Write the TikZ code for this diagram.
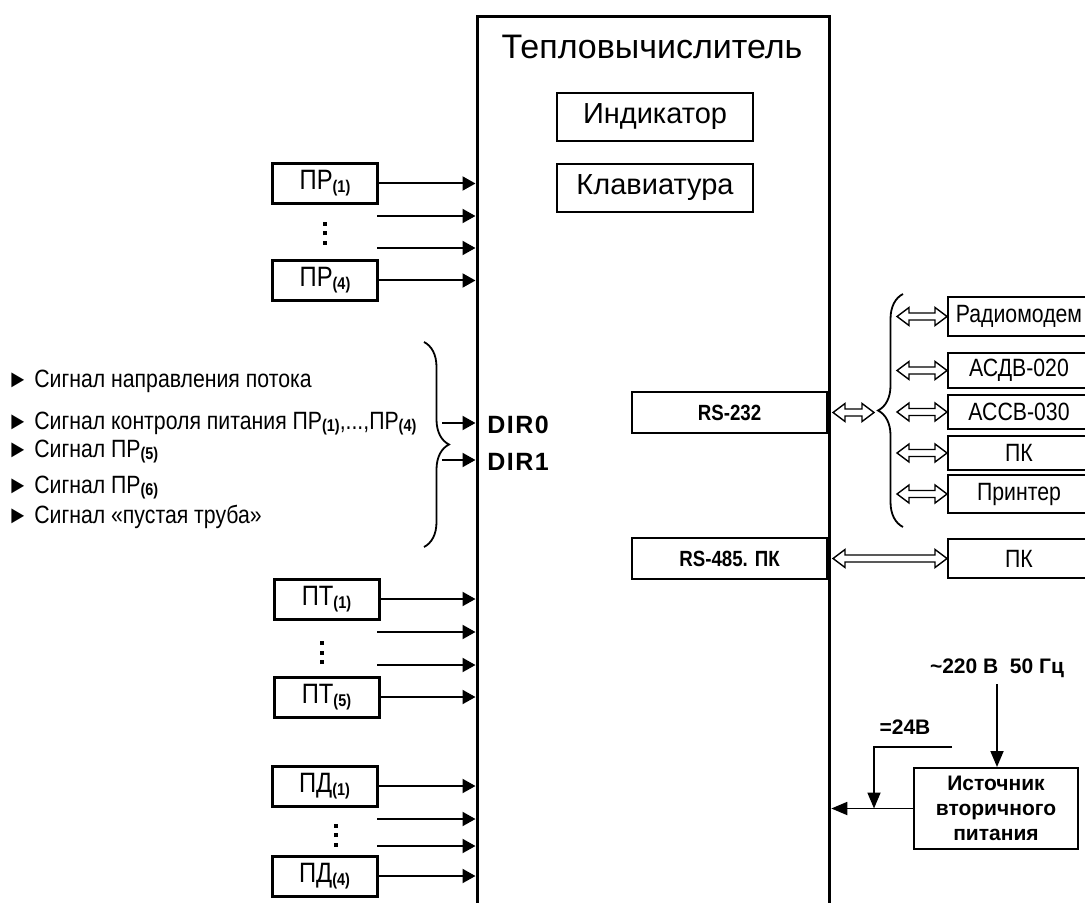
\documentclass[tikz,border=0pt]{standalone}
\usepackage{fontspec}
\setmainfont{Liberation Sans}
\newfontfamily\narrowfont[FakeStretch=0.85]{Liberation Sans}
\usetikzlibrary{positioning,arrows.meta,decorations.pathreplacing,calc}
\newcommand{\nr}[1]{\raisebox{-0.2ex}{\fontsize{8.5}{9}\selectfont\bfseries(#1)}}
\newcommand{\sqdots}{\vbox{\hrule width 2pt height 2pt\vskip2.75pt\hrule width 2pt height 2pt\vskip2.75pt\hrule width 2pt height 2pt}}
% hollow two-headed arrow between two points on one level
\newcommand{\duplex}[2]{\draw[duplex] (#1) -- ++(6pt,4.5pt) -- ++(0,-2.75pt) -- ($(#2)+(-6pt,1.75pt)$) -- ++(0,2.75pt) -- (#2) -- ++(-6pt,-4.5pt) -- ++(0,2.75pt) -- ($(#1)+(6pt,-1.75pt)$) -- ++(0,-2.75pt) -- cycle;}

\begin{document}
\begin{tikzpicture}[x=0.5pt, y=-0.5pt,
  box/.style={draw, line width=1pt, inner sep=0pt, align=center},
  panel/.style={box, minimum width=98pt, minimum height=24pt, font=\fontsize{14.5}{16}\selectfont},
  sensor/.style={box, line width=1.5pt, minimum width=52.5pt, minimum height=20pt, font=\narrowfont\fontsize{14}{16}\selectfont},
  device/.style={box, anchor=west, minimum width=71pt, font=\narrowfont\fontsize{12.5}{14}\selectfont},
  port/.style={box, minimum width=97.5pt, minimum height=20.5pt, font=\narrowfont\bfseries\fontsize{11}{13}\selectfont},
  signal/.style={anchor=base west, inner sep=0pt, font=\narrowfont\fontsize{12.5}{14}\selectfont},
  lbl/.style={font=\bfseries\fontsize{10.5}{12.5}\selectfont},
  sig/.style={-{Triangle[length=6.5pt,width=7pt]}, line width=1pt},
  pwr/.style={-{Triangle[length=8pt,width=6.5pt]}, line width=0.9pt},
  duplex/.style={line width=0.7pt, line join=miter},
  brc/.style={decorate, decoration={brace, amplitude=12.5pt}, line width=0.9pt}]

\useasboundingbox (0,0) rectangle (1085,903);
\clip (0,0) rectangle (1085,903);

% UNIT

\node [draw, line width=1.5pt, inner sep=0pt, anchor=north west, minimum width=176.4pt, minimum height=460pt] (calc) at (475.5,15.3) {};
\node [font=\fontsize{17}{20}\selectfont] (calctitle) at (652,47) {Тепловычислитель};
\node [panel] (display) at (655,117) {Индикатор};
\node [panel, below=10.5pt of display] (keypad) {Клавиатура};

% FLOW SENSORS

\node [sensor] (pr1) at (325,183.5) {ПР\nr{1}};
\node [sensor] (pr4) at (325,280.5) {ПР\nr{4}};
\node (prdots) at (325,233.5) {\sqdots};
\coordinate (pra) at (377,216);
\coordinate (prb) at (377,248);

\draw [sig] (pr1) -- (pr1 -| calc.west);
\draw [sig] (pra) -- (pra -| calc.west);
\draw [sig] (prb) -- (prb -| calc.west);
\draw [sig] (pr4) -- (pr4 -| calc.west);

% DISCRETE INPUTS

\node [signal] (sig1) at (7,387) {► Сигнал направления потока};
\node [signal] (sig2) at (7,429) {► Сигнал контроля питания ПР\nr{1},...,ПР\nr{4}};
\node [signal] (sig3) at (7,457) {► Сигнал ПР\nr{5}};
\node [signal] (sig4) at (7,493) {► Сигнал ПР\nr{6}};
\node [signal] (sig5) at (7,523) {► Сигнал «пустая труба»};

\draw [brc] (424,342) -- (424,547);
\coordinate (dira) at (442,423);
\coordinate (dirb) at (442,460);
\draw [sig] (dira) -- (dira -| calc.west);
\draw [sig] (dirb) -- (dirb -| calc.west);
\node [lbl, anchor=base west, inner sep=0pt, font=\bfseries\fontsize{12.5}{14}\selectfont\addfontfeature{LetterSpace=6}] (dir0) at (487,433) {DIR0};
\node [lbl, anchor=base west, inner sep=0pt, font=\bfseries\fontsize{12.5}{14}\selectfont\addfontfeature{LetterSpace=6}] (dir1) at (487,470) {DIR1};

% TEMPERATURE SENSORS

\node [sensor] (pt1) at (326.5,599) {ПТ\nr{1}};
\node [sensor] (pt5) at (326.5,697) {ПТ\nr{5}};
\node (ptdots) at (322,652.5) {\sqdots};
\coordinate (pta) at (377,632);
\coordinate (ptb) at (377,665);

\draw [sig] (pt1) -- (pt1 -| calc.west);
\draw [sig] (pta) -- (pta -| calc.west);
\draw [sig] (ptb) -- (ptb -| calc.west);
\draw [sig] (pt5) -- (pt5 -| calc.west);

% PRESSURE SENSORS

\node [sensor] (pd1) at (324.5,786) {ПД\nr{1}};
\node [sensor] (pd4) at (324.5,876) {ПД\nr{4}};
\node (pddots) at (336,835) {\sqdots};
\coordinate (pda) at (377,819);
\coordinate (pdb) at (377,846);

\draw [sig] (pd1) -- (pd1 -| calc.west);
\draw [sig] (pda) -- (pda -| calc.west);
\draw [sig] (pdb) -- (pdb -| calc.west);
\draw [sig] (pd4) -- (pd4 -| calc.west);

% INTERFACES

\node [port] (rs232) at (729.5,412.5) {RS-232};
\node [port] (rs485) at (729.5,558.5) {RS-485. ПК};

\node [device, minimum height=19.5pt] (radio) at (947,316.5) {Радиомодем};
\node [device, minimum height=17.5pt] (asdv) at (947,370.5) {АСДВ-020};
\node [device, minimum height=17pt] (assv) at (947,412) {АССВ-030};
\node [device, minimum height=17pt] (pc) at (947,453) {ПК};
\node [device, minimum height=19pt] (printer) at (947,494) {Принтер};
\node [device, minimum height=19.5pt] (pcb) at (947,558.5) {ПК};

\coordinate (hub) at ([xshift=23pt]rs232.east);
\duplex{[xshift=2.5pt]rs232.east}{hub}
\draw [brc] (903,527) -- (903,294);
\duplex{[xshift=-25pt]radio.west}{radio.west}
\duplex{[xshift=-25pt]asdv.west}{asdv.west}
\duplex{[xshift=-25pt]assv.west}{assv.west}
\duplex{[xshift=-25pt]pc.west}{pc.west}
\duplex{[xshift=-25pt]printer.west}{printer.west}
\duplex{[xshift=2.5pt]rs485.east}{pcb.west}

% POWER

\node [box, font=\bfseries\fontsize{10.5}{12.5}\selectfont, minimum width=82pt, minimum height=40.5pt] (psu) at (996,808.5) {Источник\\вторичного\\питания};
\node [lbl] (mains) at (997,668) {\textasciitilde220 В\ \ 50 Гц};
\node [lbl] (dc) at (905,727) {=24В};
\coordinate (dcend) at (952,747);
\coordinate (dcbend) at (874,747);

\draw [pwr] (psu.west) -- (psu.west -| calc.east);
\draw [pwr] (mains.south) -- (mains.south |- psu.north);
\draw [pwr] (dcend) -- (dcbend) -- (dcbend |- psu.west);

\end{tikzpicture}
\end{document}
